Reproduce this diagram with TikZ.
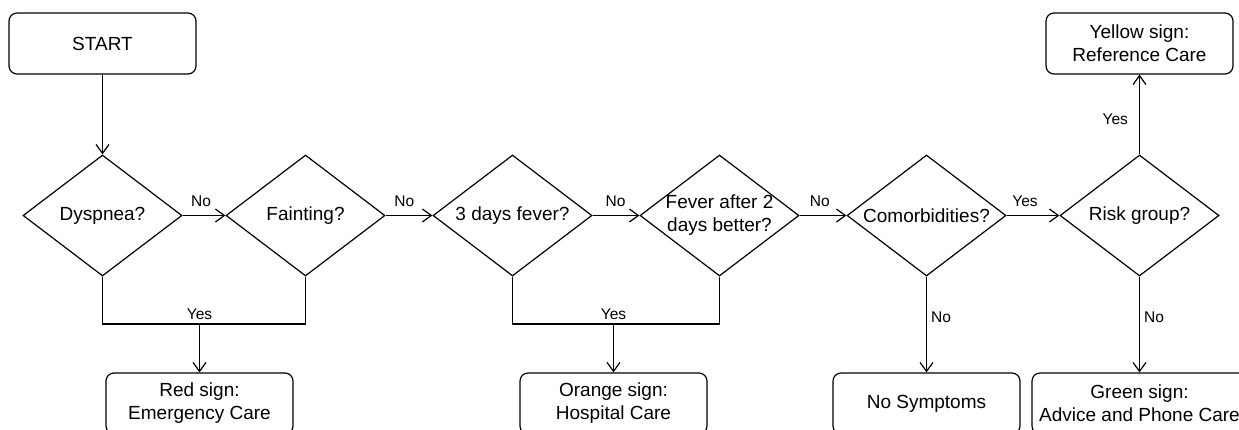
\documentclass[tikz,border=0pt]{standalone}
\usepackage{fontspec}
\setmainfont{Liberation Sans}
\usetikzlibrary{shapes.geometric,arrows.meta}
\newcommand{\mainfs}{\fontsize{19}{23}\selectfont}
\newcommand{\lblfs}{\fontsize{15.5}{18}\selectfont}
\begin{document}
\begin{tikzpicture}[x=1pt,y=-1pt,line width=1.2pt,
  box/.style={draw,rounded corners=8pt,minimum width=187pt,minimum height=61pt,
    align=center,font=\mainfs,inner sep=0pt},
  dec/.style={draw,diamond,minimum width=159pt,minimum height=121pt,inner sep=0pt},
  dtext/.style={font=\mainfs,align=center,inner sep=0pt},
  lbl/.style={font=\lblfs,inner sep=2pt},
  arr/.style={-{Straight Barb[length=9pt,width=13pt]}}]
\useasboundingbox (0,0) rectangle (1239,429);
\clip (0,0) rectangle (1239,429);

% start and decisions
\node[box] (start) at (102.5,43.5) {START};
\node[dec,label={[dtext]center:Dyspnea?}] (d1) at (102.5,215.5) {};
\node[dec,label={[dtext]center:Fainting?}] (d2) at (305.5,215.5) {};
\node[dec,label={[dtext]center:3 days fever?}] (d3) at (512.5,215.5) {};
\node[dec,label={[dtext]center:Fever after 2\\days better?}] (d4) at (719.5,215.5) {};
\node[dec,label={[dtext]center:Comorbidities?}] (d5) at (926.5,215.5) {};
\node[dec,label={[dtext]center:Risk group?}] (d6) at (1139.5,215.5) {};

% outcomes
\node[box] (yellow) at (1139.5,43.5) {Yellow sign:\\Reference Care};
\node[box] (red) at (199.5,403.5) {Red sign:\\Emergency Care};
\node[box] (orange) at (613.5,403.5) {Orange sign:\\Hospital Care};
\node[box] (nosym) at (926.5,403.5) {No Symptoms};
\node[box,minimum width=215pt] (green) at (1139.5,403.5) {Green sign:\\Advice and Phone Care};

% main chain
\draw[arr] (start) -- (d1);
\draw[arr] (d1.east) -- node[lbl,pos=0.43,above=6pt]{No} (d2.west);
\draw[arr] (d2.east) -- node[lbl,pos=0.40,above=6pt]{No} (d3.west);
\draw[arr] (d3.east) -- node[lbl,pos=0.49,above=6pt]{No} (d4.west);
\draw[arr] (d4.east) -- node[lbl,pos=0.43,above=6pt]{No} (d5.west);
\draw[arr] (d5.east) -- node[lbl,pos=0.35,above=6pt]{Yes} (d6.west);

% merged yes branches
\coordinate (j1) at (red.north |- 0,324);
\coordinate (j2) at (orange.north |- 0,324);
\draw (d1.south) |- (j1) node[lbl,above=1.5pt]{Yes} -| (d2.south);
\draw[arr] (j1) -- (red.north);
\draw (d3.south) |- (j2) node[lbl,above=1.5pt]{Yes} -| (d4.south);
\draw[arr] (j2) -- (orange.north);

% last two decisions
\draw[arr] (d5.south) -- node[lbl,pos=0.42,right=2pt]{No} (nosym.north);
\draw[arr] (d6.south) -- node[lbl,pos=0.42,right=2pt]{No} (green.north);
\draw[arr] (d6.north) -- node[lbl,pos=0.44,left=9pt]{Yes} (yellow.south);
\end{tikzpicture}
\end{document}
